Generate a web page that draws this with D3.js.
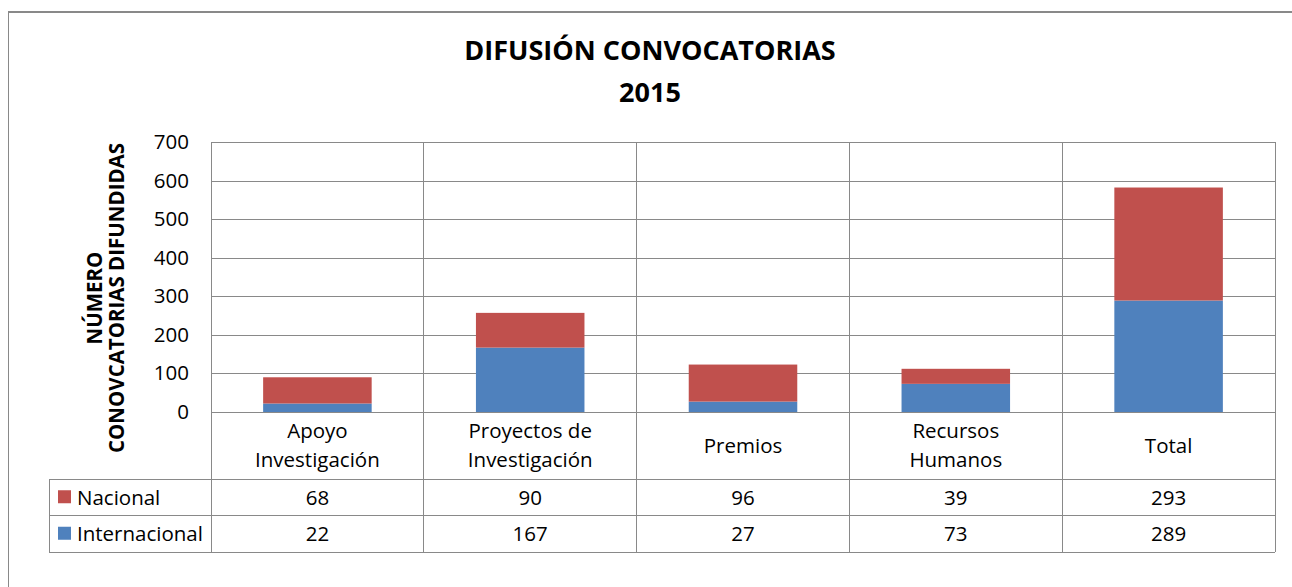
<!DOCTYPE html>
<html>
<head>
<meta charset="utf-8">
<script src="https://cdn.jsdelivr.net/npm/d3@7"></script>
<style>
  body { margin: 0; background: #fff; }
  svg { display: block; font-family: "Open Sans", sans-serif; }
</style>
</head>
<body>
<svg id="chart"></svg>
<script>
// data
const categories = ['Apoyo\nInvestigación', 'Proyectos de\nInvestigación', 'Premios', 'Recursos\nHumanos', 'Total'];
const seriesNames = ['Nacional', 'Internacional'];
const nacional = [68, 90, 96, 39, 293];
const internacional = [22, 167, 27, 73, 289];
const yTicks = [0, 100, 200, 300, 400, 500, 600, 700];

const width = 1292;
const height = 587;
const plotLeft = 211, plotRight = 1275, plotTop = 142, plotBottom = 412;
const tableTop = 479, rowH = 36.5, legendLeft = 49;
const colors = { Nacional: '#C0504D', Internacional: '#4F81BD' };
const lineColor = '#898989';
const fs = 20.5;

const svg = d3.select('#chart').attr('width', width).attr('height', height);

const rows = categories.map((c, i) => ({ cat: c, Nacional: nacional[i], Internacional: internacional[i] }));

const xScale = d3.scaleBand().domain(categories).range([plotLeft, plotRight]).padding(0);
const yScale = d3.scaleLinear().domain([0, 700]).range([plotBottom, plotTop]);

// outer frame
svg.append('line').attr('x1', 8).attr('x2', width).attr('y1', 12).attr('y2', 12)
  .attr('stroke', lineColor).attr('stroke-width', 2);
svg.append('line').attr('x1', 8.5).attr('x2', 8.5).attr('y1', 11).attr('y2', height)
  .attr('stroke', lineColor).attr('stroke-width', 1);

// title
const title = svg.append('text').attr('text-anchor', 'middle').attr('font-weight', 'bold')
  .attr('font-size', 27).attr('fill', '#000');
title.append('tspan').attr('x', 650).attr('y', 60).text('DIFUSIÓN CONVOCATORIAS');
title.append('tspan').attr('x', 650).attr('y', 102).text('2015');

// gridlines
svg.append('g').attr('transform', `translate(${plotLeft},0)`)
  .call(d3.axisLeft(yScale).tickValues(yTicks).tickSize(-(plotRight - plotLeft)).tickFormat(''))
  .call(g => g.select('.domain').remove())
  .call(g => g.selectAll('line').attr('stroke', lineColor).attr('shape-rendering', 'crispEdges'));

// y tick labels
svg.append('g').attr('transform', `translate(${plotLeft - 22},0)`)
  .call(d3.axisLeft(yScale).tickValues(yTicks).tickSize(0).tickPadding(0))
  .call(g => g.select('.domain').remove())
  .call(g => g.selectAll('text').attr('font-size', fs).attr('font-family', '"Open Sans", sans-serif').attr('fill', '#000'));

// y axis title
const yTitle = svg.append('text').attr('transform', 'translate(0,298) rotate(-90)')
  .attr('text-anchor', 'middle').attr('font-weight', 'bold').attr('font-size', fs).attr('fill', '#000');
yTitle.append('tspan').attr('x', 0).attr('y', 102).text('NÚMERO');
yTitle.append('tspan').attr('x', 0).attr('y', 124).text('CONOVCATORIAS DIFUNDIDAS');

// stacked bars
const stack = d3.stack().keys(['Internacional', 'Nacional'])(rows);
const barW = xScale.bandwidth() * 0.51;
svg.append('g').selectAll('g').data(stack).join('g')
  .attr('fill', d => colors[d.key])
  .selectAll('rect').data(d => d).join('rect')
  .attr('x', d => xScale(d.data.cat) + (xScale.bandwidth() - barW) / 2)
  .attr('width', barW)
  .attr('y', d => yScale(d[1]))
  .attr('height', d => yScale(d[0]) - yScale(d[1]));

// table lines
const tableBottom = tableTop + rowH * seriesNames.length;
const grid = svg.append('g').attr('stroke', lineColor).attr('shape-rendering', 'crispEdges');
[tableTop, tableTop + rowH, tableBottom].forEach(y => {
  grid.append('line').attr('x1', legendLeft).attr('x2', plotRight).attr('y1', y).attr('y2', y);
});
grid.append('line').attr('x1', legendLeft).attr('x2', legendLeft).attr('y1', tableTop).attr('y2', tableBottom);
categories.forEach(c => {
  grid.append('line').attr('x1', xScale(c)).attr('x2', xScale(c)).attr('y1', plotTop).attr('y2', tableBottom);
});
grid.append('line').attr('x1', plotRight).attr('x2', plotRight).attr('y1', plotTop).attr('y2', tableBottom);

// category labels
svg.append('g').selectAll('text').data(categories).join('text')
  .attr('text-anchor', 'middle').attr('font-size', fs).attr('fill', '#000')
  .each(function (c) {
    const lines = c.split('\n');
    const cx = xScale(c) + xScale.bandwidth() / 2;
    const y0 = lines.length === 1 ? 453 : 438;
    lines.forEach((t, i) => {
      d3.select(this).append('tspan').attr('x', cx).attr('y', y0 + i * 29).text(t);
    });
  });

// table rows
const series = { Nacional: nacional, Internacional: internacional };
seriesNames.forEach((name, r) => {
  const cy = tableTop + rowH * r + rowH / 2;
  svg.append('rect').attr('x', 58).attr('y', cy - 7).attr('width', 13).attr('height', 13).attr('fill', colors[name]);
  svg.append('text').attr('x', 77).attr('y', cy).attr('dy', '0.36em').attr('font-size', fs).attr('fill', '#000').text(name);
  svg.append('g').selectAll('text').data(series[name]).join('text')
    .attr('x', (d, i) => xScale(categories[i]) + xScale.bandwidth() / 2)
    .attr('y', cy).attr('dy', '0.36em').attr('text-anchor', 'middle').attr('font-size', fs).attr('fill', '#000')
    .text(d => d);
});
</script>
</body>
</html>
